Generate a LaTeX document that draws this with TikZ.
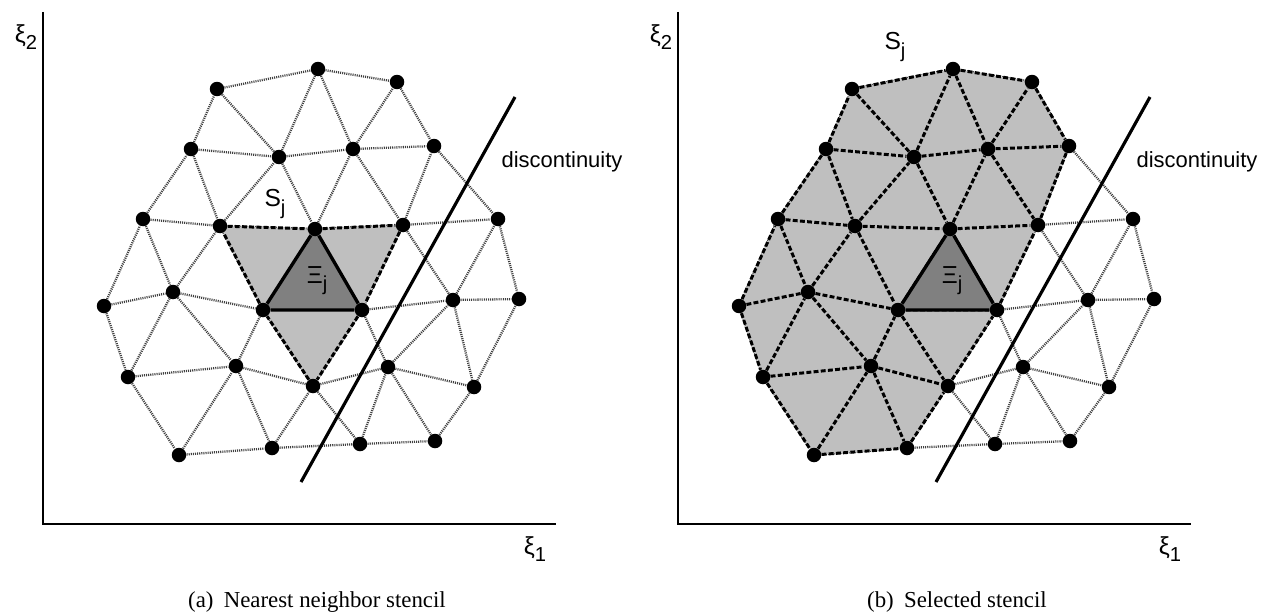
\documentclass[tikz,border=0pt]{standalone}
\usepackage{fontspec}
\setmainfont{Liberation Serif}
\setsansfont{Liberation Sans}
\usetikzlibrary{backgrounds}
\tikzset{
    meshline/.style={line width=1.3pt, black!75, dash pattern=on 0.6pt off 0.6pt},
    stencilline/.style={line width=1.7pt, black, dash pattern=on 2.8pt off 1.3pt},
    cellline/.style={line width=1.9pt, black, line join=round},
    stencilfill/.style={fill=black!25},
    cellfill/.style={fill=black!50},
    meshdot/.style={circle, fill=black, inner sep=0pt, minimum size=0.29cm},
    axisline/.style={line width=1.3pt},
    shockline/.style={line width=1.8pt},
    mathlabel/.style={font=\sffamily\fontsize{14}{16}\selectfont, inner sep=0pt},
    textlabel/.style={font=\sffamily\fontsize{12.5}{14}\selectfont, inner sep=0pt},
    caption/.style={font=\rmfamily\fontsize{13}{15}\selectfont, inner sep=0pt}
}
\newcommand{\lowidx}[1]{\raisebox{-0.55ex}{\fontsize{11.5}{12}\selectfont #1}}
% mesh nodes and dotted triangulation, shared by both panels
\newcommand{\stencilmesh}{%
    \node[meshdot] (a1) at (217,89) {};
    \node[meshdot] (a2) at (318,69) {};
    \node[meshdot] (a3) at (397,82) {};
    \node[meshdot] (b1) at (191,149) {};
    \node[meshdot] (b2) at (279,157) {};
    \node[meshdot] (b3) at (353,149) {};
    \node[meshdot] (b4) at (434,146) {};
    \node[meshdot] (c1) at (143,219) {};
    \node[meshdot] (c2) at (220,226) {};
    \node[meshdot] (c3) at (315,229) {};
    \node[meshdot] (c4) at (403,225) {};
    \node[meshdot] (c5) at (498,219) {};
    \node[meshdot] (d1) at (104,306) {};
    \node[meshdot] (d2) at (173,292) {};
    \node[meshdot] (d3) at (263,310) {};
    \node[meshdot] (d4) at (362,310) {};
    \node[meshdot] (d5) at (453,300) {};
    \node[meshdot] (d6) at (519,299) {};
    \node[meshdot] (e1) at (128,377) {};
    \node[meshdot] (e2) at (236,366) {};
    \node[meshdot] (e3) at (313,386) {};
    \node[meshdot] (e4) at (388,367) {};
    \node[meshdot] (e5) at (474,387) {};
    \node[meshdot] (f1) at (179,455) {};
    \node[meshdot] (f2) at (272,448) {};
    \node[meshdot] (f3) at (360,444) {};
    \node[meshdot] (f4) at (435,441) {};
    \begin{scope}[on background layer]
        \draw[meshline] (a1) -- (a2) -- (a3);
        \draw[meshline] (b1) -- (a1) -- (b2) -- (a2) -- (b3) -- (a3) -- (b4);
        \draw[meshline] (b1) -- (b2) -- (b3) -- (b4);
        \draw[meshline] (c1) -- (b1) -- (c2) -- (b2) -- (c3) -- (b3) -- (c4) -- (b4) -- (c5);
        \draw[meshline] (c1) -- (c2) -- (c3) -- (c4) -- (c5);
        \draw[meshline] (d1) -- (c1) -- (d2) -- (c2) -- (d3) -- (c3) -- (d4) -- (c4) -- (d5) -- (c5) -- (d6);
        \draw[meshline] (d1) -- (d2) -- (d3) -- (d4) -- (d5) -- (d6);
        \draw[meshline] (d1) -- (e1) -- (d2) -- (e2) -- (d3) -- (e3) -- (d4) -- (e4) -- (d5) -- (e5) -- (d6);
        \draw[meshline] (e1) -- (e2) -- (e3) -- (e4) -- (e5);
        \draw[meshline] (e1) -- (f1) -- (e2) -- (f2) -- (e3) -- (f3) -- (e4) -- (f4) -- (e5);
        \draw[meshline] (f1) -- (f2) -- (f3) -- (f4);
    \end{scope}
    % axes and discontinuity
    \coordinate (origin) at (43,524);
    \coordinate (xend) at (556,524);
    \coordinate (yend) at (43,12);
    \draw[axisline] (yend) -- (origin) -- (xend);
    \coordinate (shockbot) at (301,482);
    \coordinate (shocktop) at (515,97);
    \draw[shockline] (shockbot) -- (shocktop);
    \node[textlabel] (shocklabel) at (562,162) {discontinuity};
    \node[mathlabel] (xitwo) at (26,37) {ξ\lowidx{2}};
    \node[mathlabel] (xione) at (535,549) {ξ\lowidx{1}};
}

\begin{document}
\begin{tikzpicture}[x=0.02cm, y=-0.02cm]
    \useasboundingbox (0,0) rectangle (1270,615);

    % (a) nearest neighbor stencil
    \begin{scope}[name prefix=nn-]
        \stencilmesh
        \begin{scope}[on background layer]
            \fill[stencilfill] (c2.center) -- (c3.center) -- (c4.center) -- (d4.center) -- (e3.center) -- (d3.center) -- cycle;
            \draw[stencilline] (c2) -- (c3) -- (c4) -- (d4) -- (e3) -- (d3) -- (c2);
            \fill[cellfill] (c3.center) -- (d3.center) -- (d4.center) -- cycle;
            \draw[cellline] (c3) -- (d3) -- (d4) -- (c3);
        \end{scope}
        \node[mathlabel] (stencil) at (275,204) {S\lowidx{j}};
        \node[mathlabel] (cell) at (317,281) {Ξ\lowidx{j}};
        \node[caption] (capa) at (317,602) {(a)\hspace{0.45em}Nearest neighbor stencil};
    \end{scope}

    % (b) selected stencil
    \begin{scope}[name prefix=sel-, shift={(635,0)}]
        \stencilmesh
        \begin{scope}[on background layer]
            \fill[stencilfill] (a1.center) -- (a2.center) -- (a3.center) -- (b4.center) -- (c4.center) -- (d4.center) -- (e3.center)
                -- (f2.center) -- (f1.center) -- (e1.center) -- (d1.center) -- (c1.center) -- (b1.center) -- cycle;
            \draw[stencilline] (a1) -- (a2) -- (a3);
            \draw[stencilline] (b1) -- (a1) -- (b2) -- (a2) -- (b3) -- (a3) -- (b4);
            \draw[stencilline] (b1) -- (b2) -- (b3) -- (b4);
            \draw[stencilline] (c1) -- (b1) -- (c2) -- (b2) -- (c3) -- (b3) -- (c4) -- (b4);
            \draw[stencilline] (c1) -- (c2) -- (c3) -- (c4);
            \draw[stencilline] (d1) -- (c1) -- (d2) -- (c2) -- (d3) -- (c3) -- (d4) -- (c4);
            \draw[stencilline] (d1) -- (d2) -- (d3) -- (d4);
            \draw[stencilline] (d1) -- (e1) -- (d2) -- (e2) -- (d3) -- (e3) -- (d4);
            \draw[stencilline] (e1) -- (e2) -- (e3);
            \draw[stencilline] (e1) -- (f1) -- (e2) -- (f2) -- (e3);
            \draw[stencilline] (f1) -- (f2);
            \fill[cellfill] (c3.center) -- (d3.center) -- (d4.center) -- cycle;
            \draw[cellline] (c3) -- (d3) -- (d4) -- (c3);
        \end{scope}
        \node[mathlabel] (stencil) at (260,47) {S\lowidx{j}};
        \node[mathlabel] (cell) at (317,281) {Ξ\lowidx{j}};
        \node[caption] (capb) at (322,602) {(b)\hspace{0.45em}Selected stencil};
    \end{scope}
\end{tikzpicture}
\end{document}
